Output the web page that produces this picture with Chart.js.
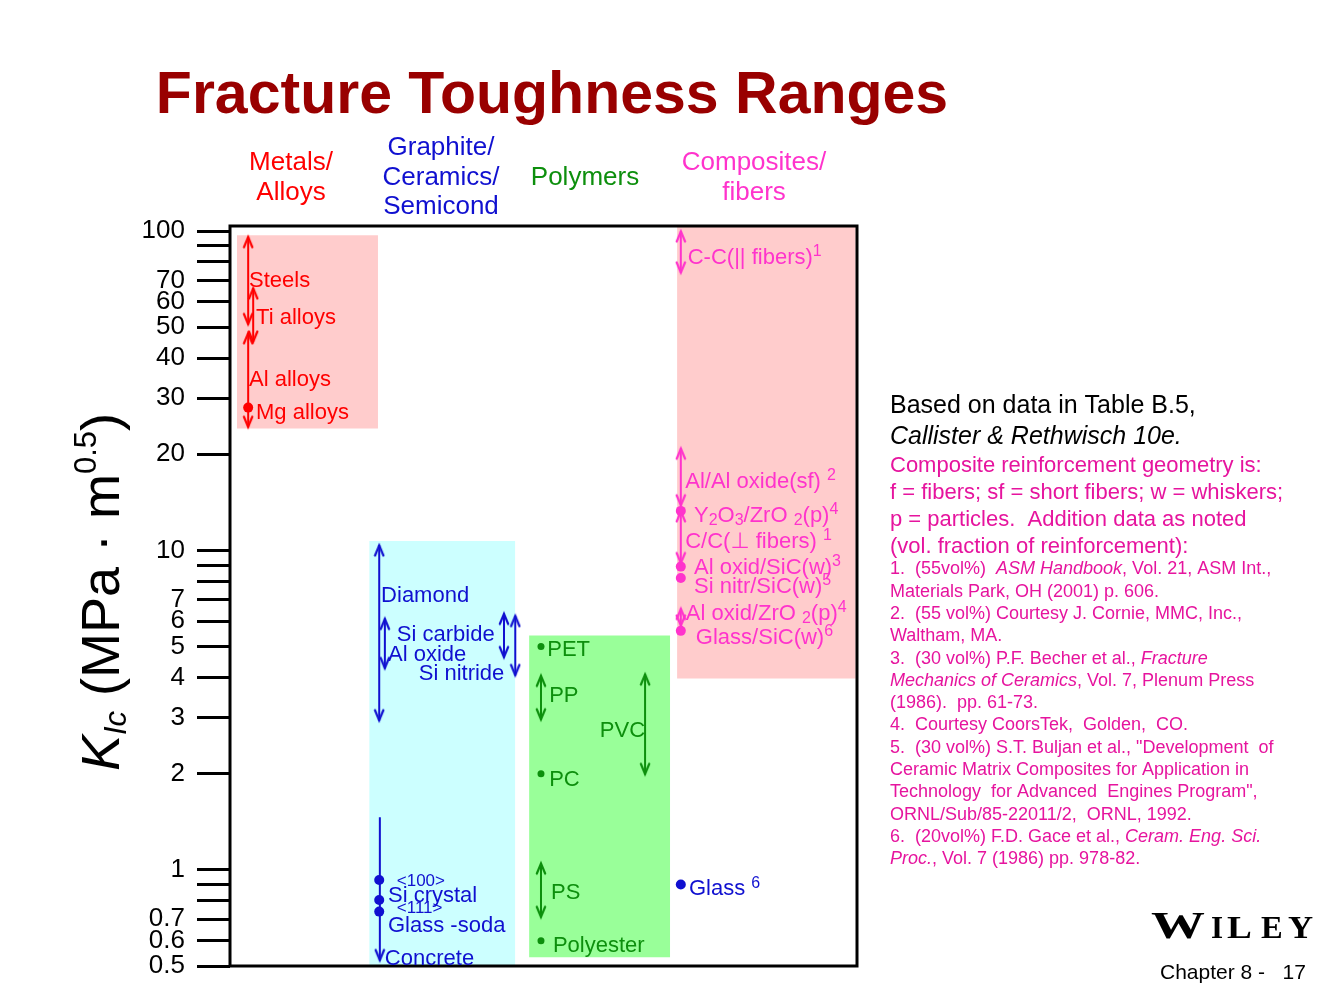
<!DOCTYPE html>
<html>
<head>
<meta charset="utf-8">
<script src="https://cdn.jsdelivr.net/npm/chart.js@4.4.1/dist/chart.umd.min.js"></script>
<style>
  html, body { margin: 0; padding: 0; background: #fff; }
  #wrap { width: 1334px; height: 1001px; }
</style>
</head>
<body>
<div id="wrap"><canvas id="chart" width="1334" height="1001"></canvas></div>
<script>
const FONT = '"Liberation Sans", Arial, "DejaVu Sans", sans-serif';
const SERIF = '"Liberation Serif", "Times New Roman", serif';

// y axis (log) ticks
const yTicks = [0.5, 0.6, 0.7, 0.8, 0.9, 1, 2, 3, 4, 5, 6, 7, 8, 9, 10, 20, 30, 40, 50, 60, 70, 80, 90, 100];
const yTickLabels = ['0.5', '0.6', '0.7', '', '', '1', '2', '3', '4', '5', '6', '7', '', '', '10', '20', '30', '40', '50', '60', '70', '', '', '100'];

// material classes (shaded columns)
const groups = ['Metals/Alloys', 'Graphite/Ceramics/Semicond', 'Polymers', 'Composites/fibers'];
const groupLo = [24.1, 0.5, 0.533, 3.97];
const groupHi = [97, 10.7, 5.42, 106];
// column extents on the hidden 0..100 x axis
const groupX0 = [1.1, 22.2, 47.7, 71.3];
const groupX1 = [23.6, 45.5, 70.2, 99.8];

// K_Ic ranges (arrows)
const rangeNames = ['Steels', 'Ti alloys', 'Al alloys', 'Diamond', 'Al oxide', 'Si carbide', 'Si nitride', 'Concrete',
  'PP', 'PVC', 'PS', 'C-C(|| fibers)', 'Al/Al oxide(sf)', 'C/C(⊥ fibers)', 'Al oxid/ZrO2(p)'];
const rangeLo = [51, 44.9, 24.3, 2.93, 4.27, 4.62, 4.06, 0.52, 2.95, 1.99, 0.71, 73.9, 13.8, 9.1, 5.8];
const rangeHi = [96, 66.3, 48, 10.4, 6.12, 6.35, 6.25, 1.46, 4.06, 4.1, 1.05, 100, 20.9, 13.3, 6.58];
const rangeX = [2.9, 3.7, 2.9, 23.8, 24.7, 43.7, 45.5, 23.9, 49.6, 66.2, 49.6, 71.9, 71.9, 71.9, 71.9];
const rangeGroup = [0, 0, 0, 1, 1, 1, 1, 1, 2, 2, 2, 3, 3, 3, 3];
const noTopHead = new Set(['Concrete']);

// single values (dots)
const pointNames = ['Mg alloys', 'Si <100>', 'Si <111>', 'Glass -soda', 'PET', 'PC', 'Polyester',
  'Y2O3/ZrO2(p)', 'Al oxid/SiC(w)', 'Si nitr/SiC(w)', 'Glass/SiC(w)', 'Glass'];
const pointVals = [28, 0.93, 0.805, 0.74, 5.0, 2.0, 0.6, 13.3, 8.9, 8.2, 5.6, 0.9];
const pointX = [2.9, 23.8, 23.8, 23.8, 49.6, 49.6, 49.6, 71.9, 71.9, 71.9, 71.9, 71.9];
const pointGroup = [0, 1, 1, 1, 2, 2, 2, 3, 3, 3, 3, 1];

const colors = ['#ff0000', '#1010d0', '#0d8f0d', '#ff33cc'];
const boxColors = ['#ffcccc', '#ccffff', '#99ff99', '#ffcccc'];
const dotRadius = [5, 5, 3.5, 5];
const NOTE = '#e6149e';

// text labels: [segments, x, y, colour group, size, align]
const labels = [
  ['Steels', 3.03, 70.7, 0], ['Ti alloys', 4.15, 54.1, 0], ['Al alloys', 3.03, 34.6, 0], ['Mg alloys', 4.15, 27.3, 0],
  ['Diamond', 24.1, 7.28, 1], ['Si carbide', 26.6, 5.49, 1], ['Al oxide', 25.2, 4.75, 1], ['Si nitride', 30.1, 4.15, 1],
  ['<100>', 26.6, 0.93, 1, 17], ['Si crystal', 25.2, 0.841, 1], ['<111>', 26.6, 0.766, 1, 17],
  ['Glass -soda', 25.2, 0.677, 1], ['Concrete', 24.7, 0.533, 1],
  ['PET', 50.6, 4.93, 2], ['PP', 50.9, 3.54, 2], ['PVC', 66.2, 2.75, 2, 22, 'right'], ['PC', 50.9, 1.94, 2],
  ['PS', 51.2, 0.859, 2], ['Polyester', 51.5, 0.586, 2],
  [[['C-C(|| fibers)'], ['1', 'sup']], 73.0, 83.5, 3],
  [[['Al/Al oxide(sf) '], ['2', 'sup']], 72.6, 16.6, 3],
  [[['Y'], ['2', 'sub'], ['O'], ['3', 'sub'], ['/ZrO '], ['2', 'sub'], ['(p)'], ['4', 'sup']], 74.0, 12.97, 3],
  [[['C/C(⊥ fibers) '], ['1', 'sup']], 72.6, 10.75, 3],
  [[['Al oxid/SiC(w)'], ['3', 'sup']], 74.0, 8.91, 3],
  [[['Si nitr/SiC(w)'], ['5', 'sup']], 74.0, 7.77, 3],
  [[['Al oxid/ZrO '], ['2', 'sub'], ['(p)'], ['4', 'sup']], 72.7, 6.39, 3],
  [[['Glass/SiC(w)'], ['6', 'sup']], 74.3, 5.38, 3],
  [[['Glass '], ['6', 'sup']], 73.2, 0.879, 1]
];

function segFont(kind, size, small) {
  const it = kind.includes('i') ? 'italic ' : '';
  const sm = kind.includes('sub') || kind.includes('sup');
  return it + (sm ? Math.round(size * small) : size) + 'px ' + FONT;
}
function drawRich(ctx, segs, x, y, size, color, align, small, subShift, supShift) {
  if (typeof segs === 'string') segs = [[segs]];
  small = small || 0.72; subShift = subShift == null ? 0.12 : subShift; supShift = supShift == null ? 0.36 : supShift;
  ctx.save();
  ctx.fillStyle = color;
  ctx.textBaseline = 'alphabetic';
  ctx.textAlign = 'left';
  let w = 0;
  const parts = segs.map(([t, k]) => {
    k = k || '';
    ctx.font = segFont(k, size, small);
    const m = ctx.measureText(t).width;
    w += m;
    return [t, k, m];
  });
  let cx = align === 'center' ? x - w / 2 : align === 'right' ? x - w : x;
  const base = y + size * 0.35;
  for (const [t, k, m] of parts) {
    ctx.font = segFont(k, size, small);
    let dy = 0;
    if (k.includes('sub')) dy = size * subShift;
    if (k.includes('sup')) dy = -size * supShift;
    ctx.fillText(t, cx, base + dy);
    cx += m;
  }
  ctx.restore();
}

function arrowHead(color) {
  const c = document.createElement('canvas');
  c.width = 12; c.height = 26;
  const g = c.getContext('2d');
  g.strokeStyle = color; g.lineWidth = 2.2; g.lineCap = 'round'; g.lineJoin = 'miter';
  g.beginPath(); g.moveTo(1.8, 23.5); g.lineTo(6, 13.3); g.lineTo(10.2, 23.5); g.stroke();
  return c;
}
const heads = colors.map(arrowHead);

const datasets = [];
groups.forEach((g, i) => datasets.push({
  type: 'line', label: g, order: 3, showLine: true,
  data: [{x: groupX0[i], y: groupHi[i]}, {x: groupX1[i], y: groupHi[i]}],
  borderColor: 'rgba(0,0,0,0)', borderWidth: 0, pointRadius: 0,
  fill: {value: groupLo[i]}, backgroundColor: boxColors[i], clip: false
}));
rangeNames.forEach((n, i) => datasets.push({
  type: 'line', label: n, order: 2, showLine: true, fill: false,
  data: [{x: rangeX[i], y: rangeHi[i]}, {x: rangeX[i], y: rangeLo[i]}],
  borderColor: colors[rangeGroup[i]], borderWidth: 2,
  pointStyle: heads[rangeGroup[i]], pointRotation: [0, 180],
  pointRadius: [noTopHead.has(n) ? 0 : 5, 5]
}));
[0, 1, 2, 3].forEach(gi => {
  const idx = pointNames.map((_, i) => i).filter(i => pointGroup[i] === gi);
  datasets.push({
    type: 'scatter', label: 'dots ' + gi, order: 1,
    data: idx.map(i => ({x: pointX[i], y: pointVals[i]})),
    pointStyle: 'circle', pointRadius: dotRadius[gi], backgroundColor: colors[gi], borderWidth: 0
  });
});

const decor = {
  id: 'decor',
  afterDatasetsDraw(chart) {
    const {ctx, chartArea: a} = chart;
    ctx.save();
    ctx.strokeStyle = '#000'; ctx.lineWidth = 3;
    ctx.strokeRect(a.left, a.top, a.right - a.left, a.bottom - a.top);
    ctx.restore();
  },
  afterDraw(chart) {
    const {ctx} = chart;
    const xs = chart.scales.x, ys = chart.scales.y;

    // title
    ctx.save();
    ctx.font = 'bold 59px ' + FONT; ctx.fillStyle = '#990000';
    ctx.textAlign = 'center'; ctx.textBaseline = 'middle';
    ctx.fillText('Fracture Toughness Ranges', 552, 97);
    ctx.restore();

    // column headers
    const hdr = [
      [['Metals/', 'Alloys'], 291, 161, 0],
      [['Graphite/', 'Ceramics/', 'Semicond'], 441, 146, 1],
      [['Polymers'], 585, 176, 2],
      [['Composites/', 'fibers'], 754, 161, 3]
    ];
    hdr.forEach(([lines, x, y, g]) => lines.forEach((t, k) =>
      drawRich(ctx, t, x, y + k * 29.5, 26, colors[g], 'center')));

    // labels in data coordinates
    labels.forEach(([segs, x, y, g, size, align]) =>
      drawRich(ctx, segs, xs.getPixelForValue(x), ys.getPixelForValue(y), size || 22, colors[g], align || 'left'));

    // y axis title
    ctx.save();
    ctx.translate(119, 592);
    ctx.rotate(-Math.PI / 2);
    drawRich(ctx, [['K', 'i'], ['Ic', 'isub'], [' (MPa · m'], ['0.5', 'sup'], [')']], 0, -19, 54, '#000', 'center', 0.58, 0.14, 0.42);
    ctx.restore();

    // notes
    drawRich(ctx, 'Based on data in Table B.5,', 890, 404, 25, '#000');
    drawRich(ctx, [['Callister & Rethwisch 10e.', 'i']], 890, 435, 25, '#000');
    ['Composite reinforcement geometry is:', 'f = fibers; sf = short fibers; w = whiskers;',
     'p = particles.  Addition data as noted', '(vol. fraction of reinforcement):']
      .forEach((t, k) => drawRich(ctx, t, 890, 464 + k * 27, 22, NOTE));
    const foot = [
      [['1.  (55vol%)  '], ['ASM Handbook', 'i'], [', Vol. 21, ASM Int.,']],
      'Materials Park, OH (2001) p. 606.',
      '2.  (55 vol%) Courtesy J. Cornie, MMC, Inc.,',
      'Waltham, MA.',
      [['3.  (30 vol%) P.F. Becher et al., '], ['Fracture', 'i']],
      [['Mechanics of Ceramics', 'i'], [', Vol. 7, Plenum Press']],
      '(1986).  pp. 61-73.',
      '4.  Courtesy CoorsTek,  Golden,  CO.',
      '5.  (30 vol%) S.T. Buljan et al., "Development  of',
      'Ceramic Matrix Composites for Application in',
      'Technology  for Advanced  Engines Program",',
      'ORNL/Sub/85-22011/2,  ORNL, 1992.',
      [['6.  (20vol%) F.D. Gace et al., '], ['Ceram. Eng. Sci.', 'i']],
      [['Proc.', 'i'], [', Vol. 7 (1986) pp. 978-82.']]
    ];
    foot.forEach((t, k) => drawRich(ctx, t, 890, 568 + k * 22.3, 18, NOTE));

    // publisher mark
    ctx.save();
    ctx.fillStyle = '#000'; ctx.textBaseline = 'alphabetic'; ctx.textAlign = 'left';
    const wiley = [['W', 1151, 38, 1.42], ['I', 1211, 31, 1.0], ['L', 1227, 31, 1.2], ['E', 1261, 31, 1.05], ['Y', 1288, 31, 1.12]];
    wiley.forEach(([ch, x, s, sx]) => {
      ctx.save();
      ctx.translate(x, 938); ctx.scale(sx, 1);
      ctx.font = 'bold ' + s + 'px ' + SERIF;
      ctx.fillText(ch, 0, 0);
      ctx.restore();
    });
    ctx.restore();
    drawRich(ctx, 'Chapter 8 -   17', 1160, 972, 21, '#000');
  }
};

new Chart(document.getElementById('chart'), {
  type: 'scatter',
  data: {datasets},
  options: {
    responsive: false,
    animation: false,
    events: [],
    layout: {padding: {left: 0, top: 226, right: 477, bottom: 35}},
    plugins: {legend: {display: false}, tooltip: {enabled: false}},
    scales: {
      x: {type: 'linear', min: 0, max: 100, display: false},
      y: {
        type: 'logarithmic', position: 'left', min: 0.5, max: 103.7, bounds: 'data',
        afterBuildTicks: s => { s.ticks = yTicks.map(v => ({value: v})); },
        afterFit: s => { s.width = 230; },
        border: {display: false},
        grid: {drawOnChartArea: false, drawTicks: true, tickLength: 33, lineWidth: 3, color: '#000'},
        ticks: {
          autoSkip: false, padding: 12, color: '#000',
          font: {family: FONT, size: 26},
          callback: (v, i) => yTickLabels[i]
        }
      }
    }
  },
  plugins: [decor]
});
</script>
</body>
</html>
